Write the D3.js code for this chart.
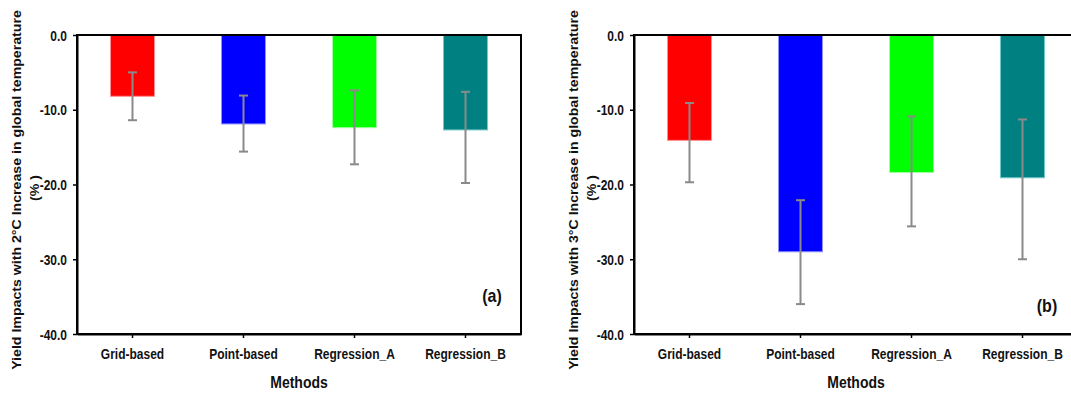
<!DOCTYPE html>
<html>
<head>
<meta charset="utf-8">
<script src="https://cdn.jsdelivr.net/npm/d3@7"></script>
<style>
  body { margin: 0; background: #fff; }
  text { font-family: Arial, "Liberation Sans", sans-serif; font-weight: bold; fill: #111; }
</style>
</head>
<body>
<script>
// methods on the x axis
var methods = ["Grid-based", "Point-based", "Regression_A", "Regression_B"];
var yTicks = [0, -10, -20, -30, -40];

// (a) yield impact with 2 degC warming, with error bar ends
var impact2C = [-8.2, -11.9, -12.4, -12.7];
var err2CUpper = [-5.0, -8.1, -7.4, -7.6];
var err2CLower = [-11.4, -15.6, -17.3, -19.8];

// (b) yield impact with 3 degC warming
var impact3C = [-14.1, -29.0, -18.4, -19.1];
var err3CUpper = [-9.1, -22.1, -10.9, -11.3];
var err3CLower = [-19.7, -36.0, -25.6, -30.0];

var barColors = ["#ff0000", "#0000ff", "#00ff00", "#008080"];
var edgeColors = ["#ff9090", "#9090ff", "#a0ffa0", "#70c8c8"];

var totalWidth = 1071, totalHeight = 393;
var marginTop = 35, plotHeight = 299, plotWidth = 444;
var stretch = 1.2; // the original picture is stretched vertically

var svg = d3.select("body").append("svg")
    .attr("width", totalWidth)
    .attr("height", totalHeight);

function drawPanel(left, means, upper, lower, title, letter, letterX, letterY) {
  var g = svg.append("g")
      .attr("transform", "translate(" + left + "," + marginTop + ")");

  var x = d3.scaleBand()
      .domain(methods)
      .range([0, plotWidth])
      .paddingInner(0.604)
      .paddingOuter(0.302);

  var y = d3.scaleLinear()
      .domain([0, -40])
      .range([0, plotHeight]);

  var data = methods.map(function(m, i) {
    return {name: m, value: means[i], hi: upper[i], lo: lower[i], i: i};
  });

  // bars
  g.selectAll(".bar")
      .data(data)
      .enter().append("rect")
      .attr("class", "bar")
      .attr("x", function(d) { return x(d.name); })
      .attr("y", y(0))
      .attr("width", x.bandwidth())
      .attr("height", function(d) { return y(d.value) - y(0); })
      .style("fill", function(d) { return barColors[d.i]; })
      .style("stroke", function(d) { return edgeColors[d.i]; })
      .style("stroke-width", 1);

  // error bars
  var err = g.selectAll(".err")
      .data(data)
      .enter().append("g")
      .attr("class", "err")
      .attr("transform", function(d) { return "translate(" + (x(d.name) + x.bandwidth() / 2) + ",0)"; })
      .style("stroke", "#8a8a8a")
      .style("stroke-width", 2);

  err.append("line")
      .attr("y1", function(d) { return y(d.hi); })
      .attr("y2", function(d) { return y(d.lo); });
  err.append("line")
      .attr("x1", -4.5).attr("x2", 4.5)
      .attr("y1", function(d) { return y(d.hi); })
      .attr("y2", function(d) { return y(d.hi); });
  err.append("line")
      .attr("x1", -4.5).attr("x2", 4.5)
      .attr("y1", function(d) { return y(d.lo); })
      .attr("y2", function(d) { return y(d.lo); });

  // frame (top and right)
  g.append("rect")
      .attr("width", plotWidth)
      .attr("height", plotHeight)
      .style("fill", "none")
      .style("stroke", "#000")
      .style("stroke-width", 2);

  // y axis
  var yAxis = g.append("g")
      .call(d3.axisLeft(y)
        .tickValues(yTicks)
        .tickSize(4)
        .tickSizeOuter(0)
        .tickFormat(function(d) { return d.toFixed(1); }));
  yAxis.select(".domain").style("stroke", "#000").style("stroke-width", 2);
  yAxis.selectAll(".tick line").style("stroke", "#000").style("stroke-width", 1.5);
  yAxis.selectAll(".tick text")
      .attr("x", 0).attr("y", 0).attr("dy", null)
      .attr("transform", "translate(-10,5) scale(1," + stretch + ")")
      .style("font-size", "12px")
      .style("font-family", null);

  // x axis
  var xAxis = g.append("g")
      .attr("transform", "translate(0," + plotHeight + ")")
      .call(d3.axisBottom(x).tickSize(4).tickSizeOuter(0));
  xAxis.select(".domain").style("stroke", "#000").style("stroke-width", 2);
  xAxis.selectAll(".tick line").style("stroke", "#000").style("stroke-width", 1.5);
  xAxis.selectAll(".tick text")
      .attr("x", 0).attr("y", 0).attr("dy", null)
      .attr("transform", "translate(0,25) scale(1," + stretch + ")")
      .style("font-size", "12px")
      .style("font-family", null);

  // axis titles
  g.append("text")
      .attr("transform", "translate(" + (plotWidth / 2) + "," + (plotHeight + 54) + ") scale(1," + stretch + ")")
      .style("text-anchor", "middle")
      .style("font-size", "14px")
      .text("Methods");

  g.append("text")
      .attr("transform", "translate(-56,155) rotate(-90) scale(1.18,1)")
      .style("text-anchor", "middle")
      .style("font-size", "12px")
      .text(title);
  g.append("text")
      .attr("transform", "translate(-38,153) rotate(-90) scale(1.18,1)")
      .style("text-anchor", "middle")
      .style("font-size", "12px")
      .text("(% )");

  // panel letter
  g.append("text")
      .attr("transform", "translate(" + letterX + "," + letterY + ") scale(1," + stretch + ")")
      .style("text-anchor", "middle")
      .style("font-size", "16px")
      .text(letter);
}

drawPanel(77, impact2C, err2CUpper, err2CLower,
  "Yield Impacts with 2°C Increase in global temperature", "(a)", 415, 267);
drawPanel(634, impact3C, err3CUpper, err3CLower,
  "Yield Impacts with 3°C Increase in global temperature", "(b)", 413, 277);
</script>
</body>
</html>
